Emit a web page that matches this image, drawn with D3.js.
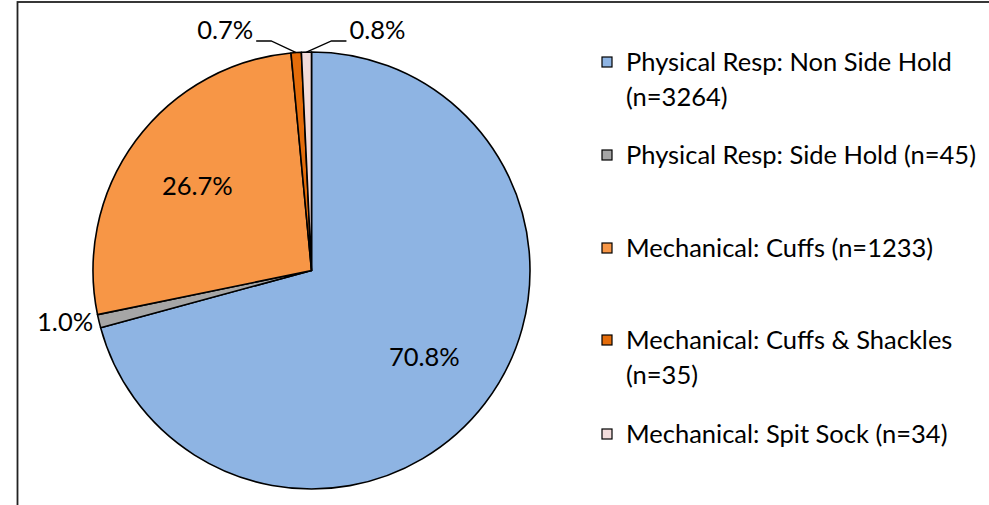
<!DOCTYPE html>
<html>
<head>
<meta charset="utf-8">
<script src="https://cdn.jsdelivr.net/npm/d3@7"></script>
<style>
  body { margin: 0; background: #fff; }
  svg { display: block; }
  text { font-family: "Lato", "Open Sans", sans-serif; fill: #000; }
</style>
</head>
<body>
<script>
// Chart data
var categories = [
  ["Physical Resp: Non Side Hold", "(n=3264)"],
  ["Physical Resp: Side Hold (n=45)"],
  ["Mechanical: Cuffs (n=1233)"],
  ["Mechanical: Cuffs & Shackles", "(n=35)"],
  ["Mechanical: Spit Sock (n=34)"]
];
var counts = [3264, 45, 1233, 35, 34];
var pctLabels = ["70.8%", "1.0%", "26.7%", "0.7%", "0.8%"];
var colors = ["#8EB4E3", "#A6A6A6", "#F79646", "#E46C0A", "#F2DCDB"];

var svgWidth = 989;
var svgHeight = 505;

var svg = d3.select("body")
  .append("svg")
  .attr("width", svgWidth)
  .attr("height", svgHeight);

// frame (right and bottom edges fall outside the picture)
svg.append("rect")
  .attr("x", 17.5)
  .attr("y", 2)
  .attr("width", 1000)
  .attr("height", 600)
  .attr("fill", "none")
  .attr("stroke", "#222")
  .attr("stroke-width", 1.8);

var cx = 311.5, cy = 270.5, radius = 218.5;
var fontSize = 25.5;

var pie = d3.pie().sort(null).value(d => d);
var arcs = pie(counts);

var arc = d3.arc().innerRadius(0).outerRadius(radius);
var labelArc = d3.arc().innerRadius(radius * 0.65).outerRadius(radius * 0.65);
var edgeArc = d3.arc().innerRadius(radius).outerRadius(radius);
var outArc = d3.arc().innerRadius(radius + 6).outerRadius(radius + 6);

var pieGroup = svg.append("g")
  .attr("transform", `translate(${cx}, ${cy})`);

pieGroup.selectAll("path.slice")
  .data(arcs)
  .enter()
  .append("path")
  .classed("slice", true)
  .attr("d", arc)
  .attr("fill", (d, i) => colors[i])
  .attr("stroke", "#000")
  .attr("stroke-width", 1.6)
  .attr("stroke-linejoin", "round");

// labels: big slices inside, small ones outside
arcs.forEach(function(d, i) {
  var share = (d.endAngle - d.startAngle) / (2 * Math.PI);
  if (share > 0.1) {
    var c = labelArc.centroid(d);
    pieGroup.append("text")
      .attr("x", c[0])
      .attr("y", c[1])
      .attr("dy", "0.35em")
      .attr("text-anchor", "middle")
      .style("font-size", fontSize + "px")
      .text(pctLabels[i]);
  } else if (d.startAngle > Math.PI * 1.9) {
    // slices near the top: leader line to a label above the pie
    var p = edgeArc.centroid(d);
    var side = i === arcs.length - 1 ? 1 : -1;
    var ly = -radius - 11;
    var elbowX = p[0] + side * 25;
    var endX = elbowX + side * 15;
    pieGroup.append("polyline")
      .attr("points", [p, [elbowX, ly], [endX, ly]].map(q => q.join(",")).join(" "))
      .attr("fill", "none")
      .attr("stroke", "#000")
      .attr("stroke-width", 1.3);
    pieGroup.append("text")
      .attr("x", endX + side * 3)
      .attr("y", ly - 2)
      .attr("text-anchor", side < 0 ? "end" : "start")
      .style("font-size", fontSize + "px")
      .text(pctLabels[i]);
  } else {
    var o = outArc.centroid(d);
    pieGroup.append("text")
      .attr("x", o[0])
      .attr("y", o[1])
      .attr("dy", "0.35em")
      .attr("text-anchor", o[0] < 0 ? "end" : "start")
      .style("font-size", fontSize + "px")
      .text(pctLabels[i]);
  }
});

// legend
var legendY = d3.scaleOrdinal()
  .domain(d3.range(categories.length))
  .range([62, 155, 248, 340, 434]);
var lineGap = 35;

var legend = svg.append("g");
categories.forEach(function(lines, i) {
  var y = legendY(i);
  legend.append("rect")
    .attr("x", 602)
    .attr("y", y - 5)
    .attr("width", 10)
    .attr("height", 10)
    .attr("fill", colors[i])
    .attr("stroke", "#000")
    .attr("stroke-width", 1.2);
  lines.forEach(function(t, j) {
    legend.append("text")
      .attr("x", 626)
      .attr("y", y + j * lineGap)
      .attr("dy", "0.35em")
      .style("font-size", fontSize + "px")
      .text(t);
  });
});
</script>
</body>
</html>
